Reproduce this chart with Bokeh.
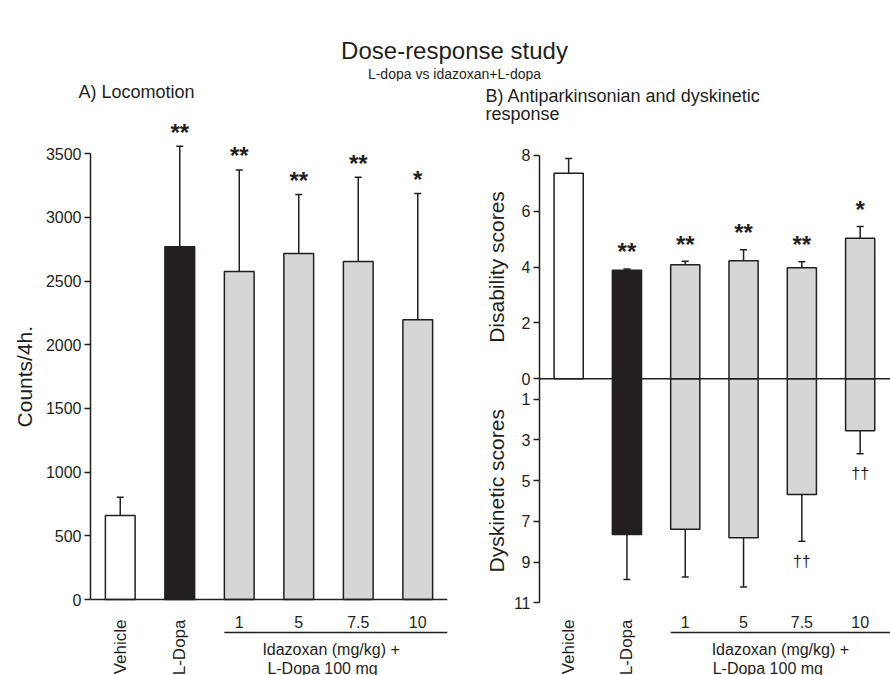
import numpy as np
from bokeh.plotting import figure
from bokeh.layouts import column, row
from bokeh.models import (Range1d, FixedTicker, LinearAxis, Span,
                          CustomJSTickFormatter)
from bokeh.embed import file_html
from bokeh.resources import INLINE
from bokeh.core.properties import value

# ---------------- data ----------------
groups = ["Vehicle", "L-Dopa", "1", "5", "7.5", "10"]
dose_labels = ["1", "5", "7.5", "10"]
vertical_labels = ["Vehicle", "L-Dopa"]

loco_mean = [660, 2770, 2575, 2718, 2655, 2196]
loco_sem = [142, 790, 798, 463, 660, 993]
loco_sig = ["", "**", "**", "**", "**", "*"]

disab_mean = [7.35, 3.88, 4.08, 4.22, 3.97, 5.03]
disab_sem = [0.53, 0.05, 0.13, 0.40, 0.22, 0.42]
disab_sig = ["", "**", "**", "**", "**", "*"]

dysk_mean = [0, 7.65, 7.39, 7.81, 5.68, 2.55]
dysk_sem = [0, 2.21, 2.34, 2.42, 2.30, 1.13]
dysk_sig = ["", "", "", "", "\u2020\u2020", "\u2020\u2020"]

loco_ticks = [0, 500, 1000, 1500, 2000, 2500, 3000, 3500]
disab_ticks = [0, 2, 4, 6, 8]
dysk_ticks = [1, 3, 5, 7, 9, 11]

title = "Dose-response study"
subtitle = "L-dopa vs idazoxan+L-dopa"
panel_a = "A) Locomotion"
panel_b = ["B) Antiparkinsonian and dyskinetic", "response"]
dose_caption = ["Idazoxan (mg/kg) +", "L-Dopa 100 mg"]
loco_ylabel = "Counts/4h."
axis_titles_b = ["Disability scores", "Dyskinetic scores"]

# ---------------- style / layout ----------------
INK = "#231f20"
GRAY = "#d6d6d6"
FONT = "Liberation Sans"
fills = ["white", INK, GRAY, GRAY, GRAY, GRAY]
xs = np.arange(len(groups)) + 0.5
BAR_W = 0.5

W, H = 890, 675
HDR_H = 81                    # title / subtitle band
TOP_L, TOP_R, BOT = 110, 125, 675
ROW_NUM_Y, ROW_LINE_Y, ROW_IDA_Y, ROW_LD_Y = 621.5, 632, 649, 667.5
VERT_TOP_Y = 619


def base_fig(width, height, xr, yr, bl=0, br=0):
    p = figure(width=width, height=height, x_range=xr, y_range=yr,
               x_axis_location=None, y_axis_location=None,
               toolbar_location=None, output_backend="svg",
               min_border_left=bl, min_border_right=br,
               min_border_top=0, min_border_bottom=0,
               outline_line_color=None)
    p.grid.visible = False
    return p


def style_axis(ax):
    ax.major_tick_in = 0
    ax.major_tick_out = 6
    ax.minor_tick_in = 0
    ax.minor_tick_out = 0
    ax.major_tick_line_color = INK
    ax.major_tick_line_width = 1.3
    ax.axis_line_color = INK
    ax.axis_line_width = 1.5
    ax.major_label_text_font = FONT
    ax.major_label_text_font_size = "16px"
    ax.major_label_text_color = INK
    ax.major_label_standoff = 3


def txt(p, x, y, text, size, align="center", baseline="middle", angle=0,
        x_offset=0, y_offset=0, style="normal", **kw):
    p.text(x=x, y=y, text=text, text_font=value(FONT), text_font_size=size,
           text_color=INK, text_align=align, text_baseline=baseline,
           text_font_style=style, angle=angle, x_offset=x_offset,
           y_offset=y_offset, **kw)


def bars(p, means, sems, **kw):
    idx = [i for i, m in enumerate(means) if m != 0]
    x = [xs[i] for i in idx]
    m = [means[i] for i in idx]
    e = [means[i] + sems[i] for i in idx]
    f = [fills[i] for i in idx]
    p.segment(x0=x, y0=m, x1=x, y1=e, line_color=INK, line_width=1.5, **kw)
    p.scatter(x=x, y=e, marker="dash", size=7, line_color=INK,
              line_width=1.5, **kw)
    p.vbar(x=x, width=BAR_W, bottom=0, top=m, fill_color=f,
           line_color=INK, line_width=1.5, **kw)
    return x, e


def pixel_fig(x0, x1, y0, y1):
    """A plain text band whose data units are page pixels."""
    return base_fig(x1 - x0, y1 - y0, Range1d(x0, x1), Range1d(y1, y0))


# ---------------- header bands ----------------
L_W = 448
header = pixel_fig(0, W, 0, HDR_H)
txt(header, [454], [50], [title], "24px")
txt(header, [454], [73], [subtitle], "14px")

hdr_a = pixel_fig(0, L_W, HDR_H, TOP_L)
txt(hdr_a, [78], [91], [panel_a], "18px", align="left")

hdr_b = pixel_fig(L_W, W, HDR_H, TOP_R)
txt(hdr_b, [485, 485], [95, 113], panel_b, "18px", align="left")

# ---------------- panel A ----------------
STRIP_A = 40
L_AXIS_X = 90
L_ZERO_Y, L_TOP_Y = 599, 153.3
s_loco = (L_ZERO_Y - L_TOP_Y) / loco_ticks[-1]
yr_loco = Range1d(-(BOT - L_ZERO_Y) / s_loco, (L_ZERO_Y - TOP_L) / s_loco)
left = base_fig(L_W - STRIP_A, BOT - TOP_L, Range1d(0, len(groups)), yr_loco,
                L_AXIS_X - STRIP_A, 1)
axl = LinearAxis(ticker=FixedTicker(ticks=loco_ticks),
                 bounds=(loco_ticks[0], loco_ticks[-1]))
style_axis(axl)
left.add_layout(axl, "left")
left.add_layout(Span(location=0, dimension="width", line_color=INK,
                     line_width=1.5))
ex, ey = bars(left, loco_mean, loco_sem)
sig = [s for s, m in zip(loco_sig, loco_mean) if m != 0]
txt(left, ex, ey, sig, "24px", baseline="alphabetic", y_offset=-14,
    style="bold")

txt(left, xs[2:], [0] * 4, dose_labels, "16px", y_offset=ROW_NUM_Y - L_ZERO_Y)
yl = -(ROW_LINE_Y - L_ZERO_Y) / s_loco
left.segment(x0=[xs[2] - BAR_W / 2], y0=[yl], x1=[len(groups)], y1=[yl],
             line_color=INK, line_width=1.3)
txt(left, [xs[2] - BAR_W / 2] * 2, [0, 0], dose_caption, "16px", align="left",
    x_offset=[38, 43], y_offset=[ROW_IDA_Y - L_ZERO_Y, ROW_LD_Y - L_ZERO_Y])
txt(left, xs[:2], [0, 0], vertical_labels, "17px", align="right",
    angle=np.pi / 2, y_offset=VERT_TOP_Y - L_ZERO_Y)

strip_a = base_fig(STRIP_A, BOT - TOP_L, Range1d(0, STRIP_A), yr_loco)
txt(strip_a, [24], [loco_ticks[-1] / 2], [loco_ylabel], "21px",
    angle=np.pi / 2)

# ---------------- panel B ----------------
R_AXIS_X = 539.3
R_ZERO_Y, R_TOP_Y, R_BOT_Y = 378.3, 154.7, 602.3
STRIP_B = 62
R_W = W - L_W - STRIP_B
R_BL = round(R_AXIS_X - L_W - STRIP_B)
R_UNIT = 58.3
s_dis = (R_ZERO_Y - R_TOP_Y) / disab_ticks[-1]
s_dys = (R_BOT_Y - R_ZERO_Y) / dysk_ticks[-1]
k = s_dys / s_dis
yr_dis = Range1d(-(BOT - R_ZERO_Y) / s_dis, (R_ZERO_Y - TOP_R) / s_dis)
yr_dys = Range1d(start=(BOT - R_ZERO_Y) / s_dys,
                 end=-(R_ZERO_Y - TOP_R) / s_dys)

right = base_fig(R_W, BOT - TOP_R, Range1d(0, (R_W - R_BL) / R_UNIT),
                 yr_dis, R_BL, 0)
right.extra_y_ranges = {"dys": yr_dys}
ticks_r = list(disab_ticks) + [-d * k for d in dysk_ticks]
axr = LinearAxis(ticker=FixedTicker(ticks=ticks_r),
                 bounds=(-dysk_ticks[-1] * k, disab_ticks[-1]),
                 formatter=CustomJSTickFormatter(args=dict(k=k), code="""
                     if (tick >= -1e-9) { return tick.toFixed(0); }
                     return Math.round(-tick / k).toString();
                 """))
style_axis(axr)
right.add_layout(axr, "left")
right.add_layout(Span(location=0, dimension="width", line_color=INK,
                      line_width=1.5))

ex, ey = bars(right, disab_mean, disab_sem)
sig = [s for s, m in zip(disab_sig, disab_mean) if m != 0]
txt(right, ex, ey, sig, "24px", baseline="alphabetic", y_offset=-17,
    style="bold")

dx, dy = bars(right, dysk_mean, dysk_sem, y_range_name="dys")
sig = [s for s, m in zip(dysk_sig, dysk_mean) if m != 0]
txt(right, dx, dy, sig, "16px", baseline="alphabetic", y_offset=20,
    y_range_name="dys")

txt(right, xs[2:], [0] * 4, dose_labels, "16px", y_offset=ROW_NUM_Y - R_ZERO_Y,
    y_range_name="dys")
yl = (ROW_LINE_Y - R_ZERO_Y) / s_dys
right.segment(x0=[xs[2] - BAR_W / 2], y0=[yl], x1=[(R_W - R_BL) / R_UNIT],
              y1=[yl], line_color=INK, line_width=1.3, y_range_name="dys")
txt(right, [xs[2] - BAR_W / 2] * 2, [0, 0], dose_caption, "16px", align="left",
    x_offset=[41, 42], y_offset=[ROW_IDA_Y - R_ZERO_Y, ROW_LD_Y - R_ZERO_Y],
    y_range_name="dys")
txt(right, xs[:2], [0, 0], vertical_labels, "17px", align="right",
    angle=np.pi / 2, y_offset=VERT_TOP_Y - R_ZERO_Y, y_range_name="dys")

# strip with the two rotated y-axis titles of panel B (shares the y ranges)
strip_b = base_fig(STRIP_B, BOT - TOP_R, Range1d(L_W, L_W + STRIP_B), yr_dis)
strip_b.extra_y_ranges = {"dys": yr_dys}
txt(strip_b, [496], [disab_ticks[-1] / 2], [axis_titles_b[0]], "21px",
    angle=np.pi / 2)
txt(strip_b, [496], [dysk_ticks[-1] / 2], [axis_titles_b[1]], "21px",
    angle=np.pi / 2, y_range_name="dys")

col_a = column(hdr_a, row(strip_a, left))
col_b = column(hdr_b, row(strip_b, right))
layout = column(header, row(col_a, col_b))
open("out.html", "w").write(file_html(layout, INLINE))
